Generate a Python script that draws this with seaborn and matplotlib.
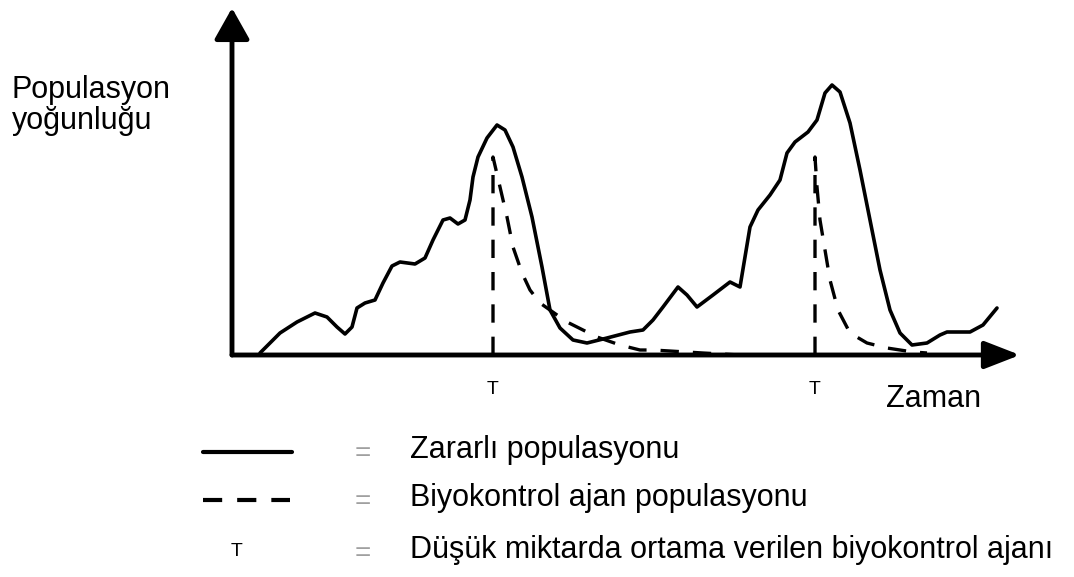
import matplotlib
matplotlib.use("Agg")
import matplotlib.pyplot as plt
import seaborn as sns
from matplotlib.lines import Line2D

# Pest population (solid curve): time vs density
pest_time = [2.8, 4.8, 6.5, 8.3, 9.5, 10.5, 11.3, 12.0, 12.5, 13.3, 14.3, 15.1,
             16.0, 16.8, 18.3, 19.3, 20.1, 21.1, 21.8, 22.6, 23.3, 23.8, 24.1,
             24.6, 25.5, 26.5, 27.3, 28.1, 29.0, 30.0, 31.0, 31.8, 32.8, 34.1,
             35.5, 37.5, 39.8, 41.1, 42.1, 43.1, 44.6, 45.5, 46.5, 48.1, 49.8,
             50.8, 51.3, 51.8, 52.6, 53.8, 54.8, 55.5, 56.3, 57.6, 58.5, 59.3,
             60.0, 60.8, 61.8, 62.8, 63.8, 64.8, 65.8, 66.8, 68.0, 69.5, 70.8,
             71.5, 73.8, 75.1, 76.5]
pest_density = [0.2, 2.2, 3.3, 4.2, 3.8, 2.8, 2.1, 2.8, 4.7, 5.2, 5.5, 7.2,
                8.9, 9.3, 9.1, 9.7, 11.5, 13.5, 13.7, 13.1, 13.5, 15.5, 17.8,
                19.8, 21.7, 23.0, 22.5, 20.8, 17.8, 13.8, 8.8, 4.5, 2.7, 1.5,
                1.2, 1.7, 2.3, 2.5, 3.5, 4.8, 6.8, 6.0, 4.8, 6.0, 7.3,
                6.8, 9.8, 12.8, 14.5, 16.0, 17.5, 20.2, 21.3, 22.3, 23.5, 26.2,
                27.0, 26.3, 23.2, 18.5, 13.5, 8.5, 4.5, 2.2, 1.0, 1.2, 2.0,
                2.3, 2.3, 3.0, 4.7]

# Biocontrol agent population after each release (dashed curves)
agent1_time = [26.1, 26.1, 26.8, 27.5, 28.1, 29.0, 29.8, 30.8, 33.5, 36.5,
               38.8, 40.8, 42.1, 47.1, 50.8]
agent1_density = [0.0, 19.8, 16.8, 13.8, 10.8, 8.2, 6.5, 5.2, 3.3, 1.8,
                  1.0, 0.5, 0.5, 0.2, 0.0]
agent2_time = [58.3, 58.3, 58.5, 58.8, 59.3, 59.8, 60.6, 61.8, 63.5, 65.5,
               68.1, 69.5]
agent2_density = [0.0, 19.8, 16.8, 13.5, 10.5, 7.5, 4.5, 2.2, 1.2, 0.7,
                  0.3, 0.2]

# Release moments (T marks)
release_times = [26.1, 58.3]

legend_labels = ["Zararlı populasyonu",
                 "Biyokontrol ajan populasyonu",
                 "Düşük miktarda ortama verilen biyokontrol ajanı"]

W, H = 1074, 577
XMAX, YMAX = 78.8, 34.7
DASH = (0, (5.5, 4.2))

sns.set_style("white")
plt.rcParams["font.family"] = ["Liberation Sans", "DejaVu Sans"]
plt.rcParams["text.color"] = "black"

fig = plt.figure(figsize=(W / 100, H / 100), dpi=100)
ax = fig.add_axes([232 / W, 1 - 355 / H, 788 / W, 347 / H])
ax.set_xlim(0, XMAX)
ax.set_ylim(0, YMAX)
ax.axis("off")

sns.lineplot(x=pest_time, y=pest_density, sort=False, estimator=None,
             color="black", lw=2.6, solid_joinstyle="round", ax=ax)
sns.lineplot(x=agent1_time, y=agent1_density, sort=False, estimator=None,
             color="black", lw=2.4, linestyle=DASH, ax=ax)
sns.lineplot(x=agent2_time, y=agent2_density, sort=False, estimator=None,
             color="black", lw=2.4, linestyle=DASH, ax=ax)

# axes with arrow heads
ax.annotate("", xy=(0, YMAX), xytext=(0, 0), annotation_clip=False,
            arrowprops=dict(arrowstyle="-|>,head_length=1.6,head_width=0.9",
                            lw=3.5, color="black", shrinkA=0, shrinkB=0,
                            mutation_scale=12))
ax.annotate("", xy=(XMAX, 0), xytext=(0, 0), annotation_clip=False,
            arrowprops=dict(arrowstyle="-|>,head_length=1.8,head_width=0.7",
                            lw=3.5, color="black", shrinkA=0, shrinkB=0,
                            mutation_scale=12))

for t in release_times:
    ax.text(t, -3.5, "T", ha="center", va="center", fontsize=14)

fig.text(12 / W, 1 - 98 / H, "Populasyon", fontsize=22, va="baseline")
fig.text(12 / W, 1 - 129 / H, "yoğunluğu", fontsize=22, va="baseline")
fig.text(886 / W, 1 - 407 / H, "Zaman", fontsize=22, va="baseline")

# legend drawn by hand below the chart
rows = [452, 500, 552]
fig.add_artist(Line2D([203 / W, 292 / W], [1 - rows[0] / H] * 2,
                      transform=fig.transFigure, color="black", lw=3))
fig.add_artist(Line2D([203 / W, 290 / W], [1 - rows[1] / H] * 2,
                      transform=fig.transFigure, color="black", lw=3,
                      linestyle=(0, (4.6, 3.6))))
fig.text(237 / W, 1 - rows[2] / H, "T", fontsize=14, ha="center", va="center")
for r, label in zip(rows, legend_labels):
    fig.text(363 / W, 1 - (r + 2) / H, "=", fontsize=20, color="#a0a0a0",
             ha="center", va="center")
    fig.text(410 / W, 1 - (r + 6) / H, label, fontsize=22, va="baseline")

fig.savefig("out.png", dpi=100)
